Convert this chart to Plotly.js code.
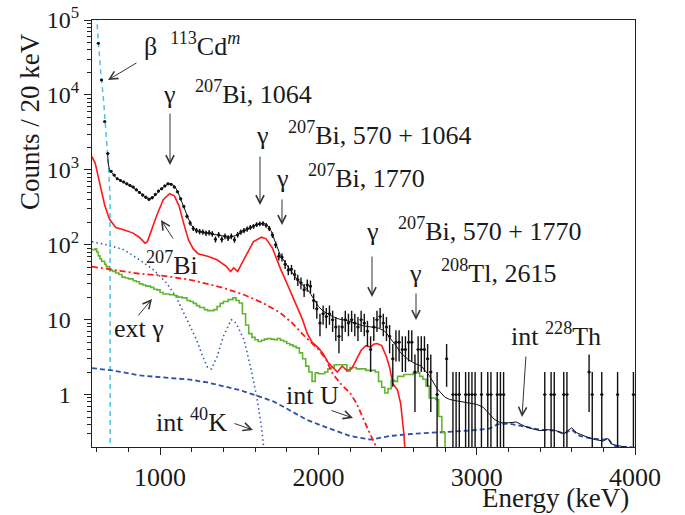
<!DOCTYPE html>
<html>
<head>
<meta charset="utf-8">
<script src="https://cdn.plot.ly/plotly-3.0.1.min.js"></script>
<style>html,body{margin:0;padding:0;background:#fff;}#chart{width:685px;height:515px;}</style>
</head>
<body>
<div id="chart"></div>
<script>
// ---------- data ----------
// measured counts per 20 keV bin (bin centres, keV) – empty bins omitted
const dataE = [610,630,650,670,690,710,730,750,770,790,810,830,850,870,890,910,930,950,970,990,
  1010,1030,1050,1070,1090,1110,1130,1150,1170,1190,1210,1230,1250,1270,1290,1310,1330,1350,1370,1390,
  1410,1430,1450,1470,1490,1510,1530,1550,1570,1590,1610,1630,1650,1670,1690,1710,1730,1750,1770,1790,
  1810,1830,1850,1870,1890,1910,1930,1950,1970,1990,2010,2030,2050,2070,2090,2110,2130,2150,2170,2190,
  2210,2230,2250,2270,2290,2310,2330,2350,2370,2390,2410,2430,2450,2470,2490,2510,2530,2550,2570,2590,
  2610,2630,2650,2670,2690,2710,2750,2810,2850,2870,2890,2930,2950,2970,2990,3030,3070,3090,3130,3150,
  3170,3430,3470,3490,3550,3570,3710,3730,3790,3890,3990];
const dataN = [49000,15800,4400,1650,960,850,760,720,690,650,620,590,540,500,460,430,405,425,470,520,
  560,610,650,640,590,510,410,325,240,195,165,155,150,148,143,145,140,118,136,118,
  130,123,130,117,136,148,155,162,170,176,186,190,192,182,165,135,100,70,68,55,
  46,47,40,34,31,25,29,28,18,14,9,12,11,12,10,8,6,8,10,9,
  10,9,8,10,9,7,4,8,10,11,9,8,6,3,5,5,4,4,5,5,
  2,4,4,4,3,2,1,3,1,1,1,1,1,1,1,1,1,1,1,1,
  1,1,1,1,1,1,2,1,1,1,1];

// total fitted model (thin black line)
const modelE = [668,672,680,690,700,720,750,780,800,830,860,880,900,930,950,980,1000,1030,1055,1070,
  1090,1110,1130,1150,1170,1190,1210,1240,1280,1320,1360,1400,1440,1480,1510,1540,1570,1600,1630,1660,
  1680,1700,1720,1740,1760,1790,1820,1850,1880,1910,1940,1970,2000,2030,2060,2090,2130,2180,2230,2280,
  2330,2380,2420,2450,2490,2520,2570,2610,2650,2700,2750,2800,2830,2880,2950,3000,3040,3080,3110,3150,
  3200,3250,3300,3350,3400,3450,3500,3550,3600,3630,3660,3700,3750,3800,3830,3850,3880,3950,4000];
const modelN = [1700,1250,1000,950,880,790,720,670,630,580,520,480,445,410,420,480,540,610,650,650,
  610,520,410,320,245,195,168,152,145,140,133,128,126,133,145,158,170,180,190,190,
  180,155,120,90,72,58,46,38,32,28,24,19,15,13,12,11,10.2,9.7,9.0,8.3,
  8.0,7.7,7.0,5.8,4.5,3.6,2.9,2.6,2.4,1.8,1.2,0.92,0.86,0.82,0.78,0.74,0.68,0.55,0.47,0.42,
  0.42,0.43,0.38,0.35,0.33,0.34,0.33,0.30,0.36,0.31,0.29,0.27,0.25,0.24,0.26,0.22,0.21,0.2,0.19];

// 207Bi (red solid)
const biE = [570,590,610,620,650,680,720,770,830,870,905,920,940,980,1020,1060,1090,1120,1150,1180,
  1210,1240,1300,1360,1420,1445,1465,1490,1540,1590,1640,1670,1710,1760,1800,1840,1870,1900,1930,1960,
  2000,2030,2060,2090,2120,2150,2180,2210,2240,2270,2300,2330,2350,2370,2400,2430,2450,2470,2500,2520,
  2540,2555];
const biN = [1500,1230,800,660,340,220,170,158,143,125,105,110,145,250,400,480,450,330,190,115,
  88,76,70,63,51,44,49,44,70,110,126,120,90,48,31,20,14,10,6.5,5,
  4.2,3.5,2.7,2.3,2.0,2.4,2.1,2.2,3.0,3.9,4.5,4.3,4.7,4.8,4.5,3.2,2.3,1.4,1.15,0.75,
  0.3,0.1];

// internal U (red dash-dot)
const uE = [570,700,870,1000,1100,1190,1300,1400,1530,1650,1760,1840,1900,1950,2000,2050,2090,2140,2200,2240,
  2280,2320,2370,2390];
const uN = [51,46,41,39,36,34,30,26.5,21.5,16.7,12.3,8.8,6.4,5.1,4.0,2.9,1.9,1.4,1.05,0.77,
  0.51,0.32,0.19,0.12];

// external gamma (green histogram)
const extE = [570,590,600,610,620,630,650,660,680,700,720,740,760,780,800,830,850,870,890,910,
  940,960,980,1000,1020,1060,1090,1110,1140,1170,1190,1210,1230,1250,1280,1300,1340,1360,1380,1400,
  1430,1460,1480,1500,1520,1540,1560,1580,1600,1620,1640,1660,1680,1700,1720,1740,1760,1780,1800,1820,
  1840,1860,1880,1900,1920,1940,1960,1980,2000,2040,2060,2080,2100,2160,2180,2200,2240,2300,2360,2380,
  2400,2420,2440,2460,2480,2500,2540,2600,2640,2660,2680,2700,2740,2760,2780,2800];
const extN = [86,88,80,71,65,60,55,51,46,44,42,40,37,36,35,33,32,30,29,28,
  27,25.5,25,23,22,21.5,21,20,19.5,18,17.5,16.5,15.4,14.5,13.6,13.2,13.6,15,16.5,17.5,
  18.5,19.5,18,16.7,12,8.5,6.5,5.8,5.4,5.1,5.3,5.5,5.6,5.5,5.4,5.6,5.3,5.1,4.8,4.6,
  4.4,4.2,3.6,3.0,2.4,2.0,1.5,1.95,1.9,2.0,2.2,2.3,2.5,2.5,2.05,2.3,2.2,2.1,2.0,1.5,
  1.25,1.05,1.2,1.55,1.5,1.75,1.85,1.95,1.75,1.6,1.3,0.9,0.86,0.51,0.31,0.05];

// internal 40K (blue dotted)
const kE = [570,660,770,870,960,1040,1100,1170,1230,1270,1300,1325,1360,1400,1450,1480,1530,1570,1610,1640,1655,1665];
const kN = [110,100,86,63,46,31,20.4,10,5.4,3.2,2.3,2.2,3.2,6,10,9,5.4,2.4,0.95,0.38,0.2,0.12];

// internal 228Th (blue dashed)
const thE = [570,700,874,1000,1190,1300,1400,1500,1590,1716,1800,1926,2000,2095,2200,2330,2450,2600,2750,2950,
  3080,3130,3200,3300,3400,3500,3550,3600,3650,3720,3800,3830,3860,3900,3970,4000];
const thN = [2.25,2.1,1.8,1.72,1.58,1.45,1.29,1.15,1.0,0.81,0.65,0.46,0.40,0.34,0.28,0.25,0.28,0.30,0.31,0.33,
  0.35,0.40,0.41,0.37,0.34,0.33,0.30,0.34,0.28,0.26,0.25,0.26,0.21,0.20,0.20,0.19];

// beta 113Cd^m (cyan dashed)
const cdE = [590,600,622,643,664,676,684,685];
const cdN = [2e5,1e5,2.4e4,8500,2300,1000,400,0.05];

// axis tick labels
const yTickVals = [1,10,100,1000,10000,100000];
const yTickText = ['1<sup>\u2007</sup>','10<sup>\u2007</sup>','10<sup>2</sup>','10<sup>3</sup>','10<sup>4</sup>','10<sup>5</sup>'];
const xTickVals = [1000,2000,3000,4000];
const xTickText = ['1000','2000','3000','4000'];

// ---------- drawing ----------
const FONT = 'Liberation Serif, Times New Roman, serif';
const INK = '#1a1a1a';
const PL = 92, PR = 635, PT = 20, PB = 447;
const px = v => (v - PL) / (PR - PL);
const py = v => (PB - v) / (PB - PT);

const yMinor = [];
for (let d = -1; d <= 4; d++) for (let m = 2; m <= 9; m++) { const v = m * Math.pow(10, d); if (v > 0.2 && v < 1e5) yMinor.push(v); }

const traces = [
  {x: cdE, y: cdN, mode:'lines', line:{color:'#4cc3e6', width:1.5, dash:'5px,4px'}},
  {x: kE, y: kN, mode:'lines', line:{color:'#3a5cc0', width:1.6, dash:'1.5px,3px'}},
  {x: thE, y: thN, mode:'lines', line:{color:'#2f4fb0', width:1.8, dash:'5px,3px'}},
  {x: extE, y: extN, mode:'lines', line:{color:'#62b532', width:1.6, shape:'hv'}},
  {x: uE, y: uN, mode:'lines', line:{color:'#ff1a1a', width:1.8, dash:'6px,3px,2px,3px'}},
  {x: biE, y: biN, mode:'lines', line:{color:'#ff1a1a', width:1.6}},
  {x: modelE, y: modelN, mode:'lines', line:{color:'#111', width:1}},
  {x: dataE, y: dataN, mode:'markers', marker:{color:'#111', size:3},
   error_y:{type:'data', array:dataN.map(Math.sqrt), color:'#111', thickness:1.4, width:0},
   error_x:{type:'constant', value:10, color:'#111', thickness:1, width:0}}
];

function label(text, x, y) {
  return {text, x: px(x), y: py(y), xref:'paper', yref:'paper', xanchor:'left', yanchor:'middle',
          showarrow:false, font:{family:FONT, size:26, color:INK}};
}
function arrow(tx, ty, hx, hy) {
  return {text:'', x: px(hx), y: py(hy), xref:'paper', yref:'paper', ax: tx - hx, ay: ty - hy,
          showarrow:true, arrowhead:5, arrowsize:1.6, arrowwidth:1, arrowcolor:'#333'};
}

const annotations = [
  label('\u03b2\u00a0\u00a0<sup>113</sup>Cd<sup><i>m</i></sup>', 142, 45),
  label('\u03b3\u00a0\u00a0\u00a0<sup>207</sup>Bi, 1064', 161, 93),
  label('\u03b3\u00a0\u00a0\u00a0<sup>207</sup>Bi, 570 + 1064', 254, 133),
  label('\u03b3\u00a0\u00a0\u00a0<sup>207</sup>Bi, 1770', 274, 177),
  label('\u03b3\u00a0\u00a0\u00a0<sup>207</sup>Bi, 570 + 1770', 364, 229),
  label('\u03b3\u00a0\u00a0\u00a0<sup>208</sup>Tl, 2615', 407, 271),
  label('<sup>207</sup>Bi', 144, 263),
  label('ext \u03b3', 112, 328),
  label('int <sup>40</sup>K', 154, 420),
  label('int U', 284, 395),
  label('int <sup>228</sup>Th', 509, 335),
  arrow(138, 62, 108, 80),
  arrow(170, 112, 170, 165),
  arrow(260, 155, 260, 205),
  arrow(282, 198, 282, 225),
  arrow(372, 255, 372, 297),
  arrow(416, 292, 416, 320),
  arrow(174, 240, 161, 220),
  arrow(137, 317, 152, 299),
  arrow(233, 423, 253, 430),
  arrow(330, 410, 353, 418),
  arrow(526, 355, 522, 417),
  {text:'Counts / 20 keV', textangle:-90, x: px(30), y: py(122), xref:'paper', yref:'paper',
   xanchor:'center', yanchor:'middle', showarrow:false, font:{family:FONT, size:27, color:INK}},
  {text:'Energy (keV)', x: px(631), y: py(498), xref:'paper', yref:'paper',
   xanchor:'right', yanchor:'middle', showarrow:false, font:{family:FONT, size:27, color:INK}}
];

const layout = {
  width:685, height:515, showlegend:false,
  paper_bgcolor:'#fff', plot_bgcolor:'#fff',
  margin:{l:PL, r:685-PR, t:PT, b:515-PB, pad:0},
  font:{family:FONT, color:INK},
  xaxis:{range:[570,4000], tickmode:'array', tickvals:xTickVals, ticktext:xTickText,
    ticks:'outside', ticklen:7, tickwidth:1, tickcolor:'#222',
    minor:{dtick:200, tick0:0, ticks:'outside', ticklen:4, tickwidth:1, tickcolor:'#222', showgrid:false},
    showline:true, linecolor:'#222', linewidth:1, mirror:true, showgrid:false, zeroline:false,
    tickfont:{family:FONT, size:26, color:INK}},
  yaxis:{type:'log', range:[-0.7,5], tickmode:'array', tickvals:yTickVals, ticktext:yTickText,
    ticks:'outside', ticklen:7, tickwidth:1, tickcolor:'#222',
    minor:{tickmode:'array', tickvals:yMinor, ticks:'outside', ticklen:4, tickwidth:1, tickcolor:'#222', showgrid:false},
    showline:true, linecolor:'#222', linewidth:1, mirror:true, showgrid:false, zeroline:false,
    tickfont:{family:FONT, size:24, color:INK}},
  annotations
};

Plotly.newPlot('chart', traces, layout, {displayModeBar:false, staticPlot:true});
</script>
</body>
</html>
